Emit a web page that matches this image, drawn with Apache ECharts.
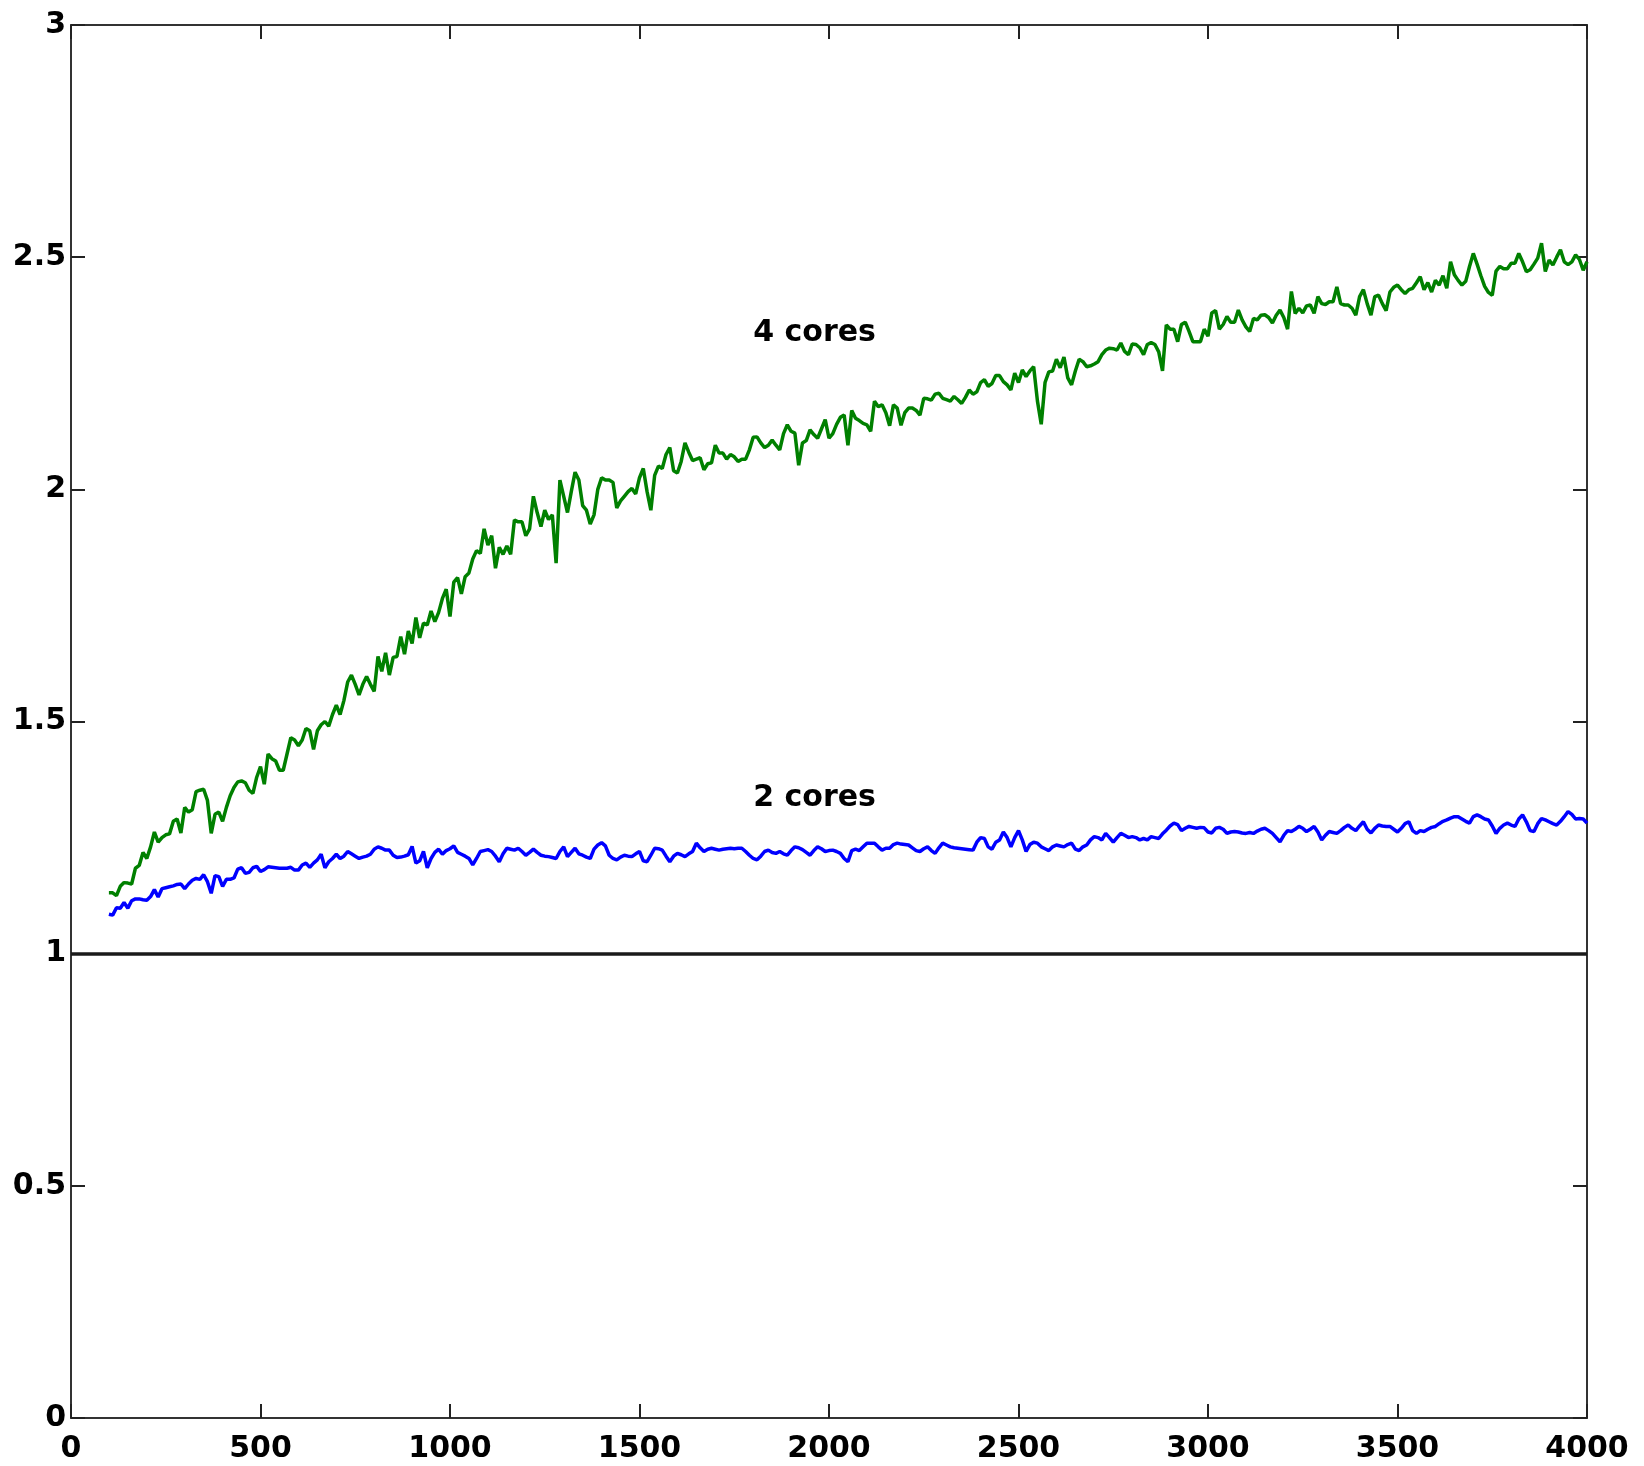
<!DOCTYPE html>
<html>
<head>
<meta charset="utf-8">
<script src="https://cdn.jsdelivr.net/npm/echarts@6/dist/echarts.min.js"></script>
<style>
html,body{margin:0;padding:0;background:#fff;}
#chart{width:1644px;height:1466px;}
</style>
</head>
<body>
<div id="chart"></div>
<script>
// x positions: from 100 to 4000, step 10
const xStart = 100;
const xStep = 10;

// 4 cores (green)
const cores4 = [
1.131,1.131,1.125,1.145,1.153,1.152,1.150,1.184,1.190,1.218,
1.205,1.230,1.262,1.240,1.250,1.256,1.258,1.285,1.290,1.260,
1.315,1.305,1.310,1.349,1.352,1.354,1.330,1.259,1.300,1.305,
1.285,1.315,1.340,1.358,1.370,1.372,1.368,1.352,1.345,1.380,
1.403,1.365,1.430,1.420,1.415,1.395,1.395,1.430,1.465,1.460,
1.448,1.460,1.485,1.480,1.440,1.480,1.493,1.500,1.490,1.515,
1.535,1.515,1.545,1.585,1.600,1.580,1.557,1.580,1.597,1.580,
1.565,1.640,1.608,1.648,1.600,1.638,1.640,1.683,1.645,1.695,
1.668,1.724,1.680,1.712,1.708,1.738,1.715,1.735,1.765,1.785,
1.726,1.800,1.810,1.775,1.812,1.820,1.850,1.868,1.862,1.915,
1.880,1.900,1.830,1.875,1.860,1.878,1.860,1.934,1.930,1.930,
1.900,1.915,1.985,1.950,1.920,1.955,1.935,1.945,1.841,2.020,
1.985,1.950,1.995,2.037,2.020,1.965,1.955,1.925,1.945,2.000,
2.025,2.020,2.020,2.015,1.960,1.975,1.985,1.995,2.002,1.990,
2.025,2.045,1.995,1.955,2.030,2.050,2.045,2.075,2.090,2.040,
2.035,2.060,2.100,2.080,2.062,2.065,2.068,2.042,2.055,2.057,
2.095,2.078,2.078,2.065,2.075,2.070,2.060,2.065,2.065,2.085,
2.112,2.113,2.100,2.090,2.095,2.106,2.095,2.085,2.120,2.139,
2.125,2.121,2.052,2.100,2.105,2.128,2.118,2.110,2.130,2.150,
2.110,2.120,2.140,2.155,2.160,2.095,2.170,2.153,2.148,2.142,
2.139,2.125,2.190,2.178,2.182,2.165,2.137,2.182,2.175,2.138,
2.165,2.175,2.175,2.170,2.160,2.196,2.195,2.192,2.205,2.207,
2.196,2.193,2.190,2.200,2.193,2.185,2.198,2.214,2.205,2.210,
2.230,2.236,2.222,2.228,2.245,2.245,2.232,2.225,2.214,2.250,
2.230,2.257,2.243,2.255,2.264,2.190,2.140,2.230,2.253,2.255,
2.280,2.262,2.285,2.240,2.225,2.255,2.280,2.275,2.264,2.266,
2.270,2.275,2.290,2.300,2.304,2.303,2.300,2.315,2.297,2.290,
2.313,2.312,2.305,2.290,2.312,2.316,2.312,2.296,2.255,2.354,
2.345,2.345,2.318,2.355,2.360,2.340,2.318,2.318,2.318,2.345,
2.330,2.380,2.385,2.345,2.355,2.372,2.360,2.360,2.386,2.365,
2.350,2.340,2.368,2.365,2.375,2.376,2.370,2.358,2.375,2.386,
2.370,2.345,2.426,2.379,2.390,2.380,2.395,2.397,2.379,2.415,
2.400,2.398,2.404,2.404,2.436,2.400,2.397,2.397,2.390,2.375,
2.415,2.430,2.400,2.375,2.415,2.418,2.400,2.385,2.425,2.435,
2.440,2.430,2.422,2.430,2.433,2.445,2.458,2.430,2.445,2.425,
2.450,2.440,2.460,2.433,2.490,2.462,2.450,2.440,2.448,2.480,
2.508,2.485,2.460,2.437,2.424,2.418,2.470,2.480,2.475,2.475,
2.487,2.487,2.508,2.490,2.469,2.473,2.485,2.498,2.530,2.469,
2.494,2.483,2.500,2.516,2.490,2.484,2.490,2.505,2.495,2.472,
2.490
];

// 2 cores (blue)
const cores2 = [
1.085,1.083,1.099,1.098,1.110,1.098,1.114,1.118,1.118,1.116,
1.115,1.123,1.138,1.122,1.140,1.142,1.144,1.146,1.149,1.150,
1.140,1.150,1.158,1.162,1.160,1.170,1.155,1.130,1.168,1.166,
1.145,1.160,1.160,1.163,1.182,1.185,1.173,1.175,1.185,1.188,
1.177,1.181,1.187,1.186,1.185,1.184,1.184,1.184,1.186,1.180,
1.180,1.191,1.195,1.186,1.195,1.202,1.214,1.185,1.198,1.205,
1.214,1.205,1.210,1.220,1.215,1.210,1.205,1.208,1.210,1.214,
1.225,1.230,1.227,1.223,1.223,1.212,1.207,1.208,1.210,1.213,
1.231,1.195,1.200,1.220,1.185,1.205,1.218,1.225,1.214,1.222,
1.226,1.232,1.218,1.214,1.210,1.205,1.191,1.205,1.220,1.222,
1.224,1.220,1.210,1.198,1.215,1.227,1.225,1.223,1.227,1.220,
1.212,1.218,1.225,1.218,1.212,1.210,1.209,1.207,1.205,1.220,
1.230,1.209,1.218,1.227,1.215,1.212,1.208,1.205,1.225,1.234,
1.239,1.232,1.212,1.205,1.202,1.208,1.212,1.210,1.209,1.215,
1.220,1.200,1.198,1.212,1.227,1.226,1.223,1.210,1.198,1.210,
1.216,1.213,1.209,1.215,1.220,1.238,1.228,1.220,1.225,1.227,
1.225,1.223,1.225,1.226,1.227,1.226,1.227,1.227,1.220,1.212,
1.205,1.202,1.210,1.220,1.223,1.218,1.216,1.220,1.215,1.212,
1.222,1.230,1.228,1.224,1.218,1.212,1.222,1.230,1.226,1.220,
1.222,1.223,1.220,1.216,1.205,1.198,1.222,1.225,1.222,1.230,
1.238,1.238,1.238,1.230,1.223,1.227,1.227,1.235,1.238,1.236,
1.235,1.234,1.228,1.222,1.220,1.226,1.230,1.222,1.216,1.228,
1.238,1.234,1.230,1.228,1.227,1.226,1.225,1.224,1.223,1.240,
1.250,1.248,1.230,1.225,1.240,1.245,1.262,1.250,1.230,1.250,
1.265,1.245,1.220,1.235,1.240,1.238,1.230,1.226,1.222,1.230,
1.234,1.232,1.230,1.235,1.238,1.225,1.222,1.230,1.234,1.245,
1.252,1.250,1.245,1.259,1.250,1.240,1.250,1.259,1.255,1.250,
1.252,1.250,1.245,1.248,1.245,1.252,1.250,1.248,1.258,1.266,
1.275,1.281,1.278,1.265,1.270,1.274,1.272,1.270,1.272,1.271,
1.262,1.260,1.270,1.272,1.268,1.259,1.262,1.263,1.262,1.260,
1.259,1.261,1.259,1.264,1.268,1.270,1.265,1.259,1.250,1.241,
1.255,1.265,1.263,1.268,1.274,1.270,1.263,1.268,1.274,1.262,
1.245,1.255,1.263,1.261,1.259,1.265,1.272,1.277,1.270,1.265,
1.275,1.284,1.268,1.260,1.270,1.277,1.275,1.274,1.274,1.268,
1.262,1.270,1.280,1.284,1.265,1.259,1.265,1.263,1.268,1.272,
1.274,1.280,1.285,1.288,1.292,1.295,1.295,1.290,1.285,1.281,
1.295,1.299,1.295,1.290,1.288,1.275,1.259,1.270,1.277,1.281,
1.277,1.274,1.290,1.299,1.284,1.265,1.263,1.280,1.291,1.288,
1.284,1.280,1.277,1.285,1.295,1.306,1.300,1.290,1.291,1.290,
1.281
];

// Reference (baseline) value
const baseline = 1;

// Text annotations: [x, y, text]
const annotations = [
  [1800, 2.336, '4 cores'],
  [1800, 1.335, '2 cores']
];

// Axis settings
const xTicks = {min: 0, max: 4000, interval: 500};
const yTicks = {min: 0, max: 3, interval: 0.5};

const toPairs = arr => arr.map((v, i) => [xStart + i * xStep, v]);

const font = {fontFamily: 'DejaVu Sans', fontWeight: 'bold', fontSize: 30, color: '#000'};
const axisLineStyle = {color: '#333', width: 2};
const tick = {show: true, inside: true, length: 14, lineStyle: {color: '#222', width: 2}};

const chart = echarts.init(document.getElementById('chart'), null, {renderer: 'canvas'});
chart.setOption({
  animation: false,
  backgroundColor: '#fff',
  grid: {left: 71, right: 57, top: 25, bottom: 48, containLabel: false},
  xAxis: [
    {type: 'value', position: 'bottom', min: xTicks.min, max: xTicks.max, interval: xTicks.interval,
     axisLine: {show: true, onZero: false, lineStyle: axisLineStyle},
     axisTick: tick,
     axisLabel: Object.assign({margin: 16, formatter: v => String(v)}, font),
     splitLine: {show: false}},
    {type: 'value', position: 'top', min: xTicks.min, max: xTicks.max, interval: xTicks.interval,
     axisLine: {show: true, onZero: false, lineStyle: axisLineStyle},
     axisTick: tick, axisLabel: {show: false}, splitLine: {show: false}}
  ],
  yAxis: [
    {type: 'value', position: 'left', min: yTicks.min, max: yTicks.max, interval: yTicks.interval,
     axisLine: {show: true, onZero: false, lineStyle: axisLineStyle},
     axisTick: tick,
     axisLabel: Object.assign({margin: 5, formatter: v => String(v)}, font),
     splitLine: {show: false}},
    {type: 'value', position: 'right', min: yTicks.min, max: yTicks.max, interval: yTicks.interval,
     axisLine: {show: true, onZero: false, lineStyle: axisLineStyle},
     axisTick: tick, axisLabel: {show: false}, splitLine: {show: false}}
  ],
  series: [
    {
      name: '4 cores', type: 'line', data: toPairs(cores4), showSymbol: false, symbol: 'none',
      lineStyle: {color: '#008000', width: 3.5}, itemStyle: {color: '#008000'},
      z: 3,
      markLine: {
        silent: true, symbol: 'none', animation: false,
        label: {show: false},
        lineStyle: {color: '#1a1a1a', width: 3.5, type: 'solid'},
        data: [{yAxis: baseline}]
      }
    },
    {
      name: '2 cores', type: 'line', data: toPairs(cores2), showSymbol: false, symbol: 'none',
      lineStyle: {color: '#0000ff', width: 3.5}, itemStyle: {color: '#0000ff'}, z: 3
    },
    {
      name: 'labels', type: 'custom', data: annotations, silent: true, z: 5,
      renderItem: (params, api) => {
        const p = api.coord([api.value(0), api.value(1)]);
        const d = annotations[params.dataIndex];
        return {
          type: 'text', x: p[0], y: p[1],
          style: {
            text: d[2], fill: '#000',
            font: 'bold 30px "DejaVu Sans"',
            align: 'left', verticalAlign: 'middle'
          }
        };
      }
    }
  ]
});
</script>
</body>
</html>
